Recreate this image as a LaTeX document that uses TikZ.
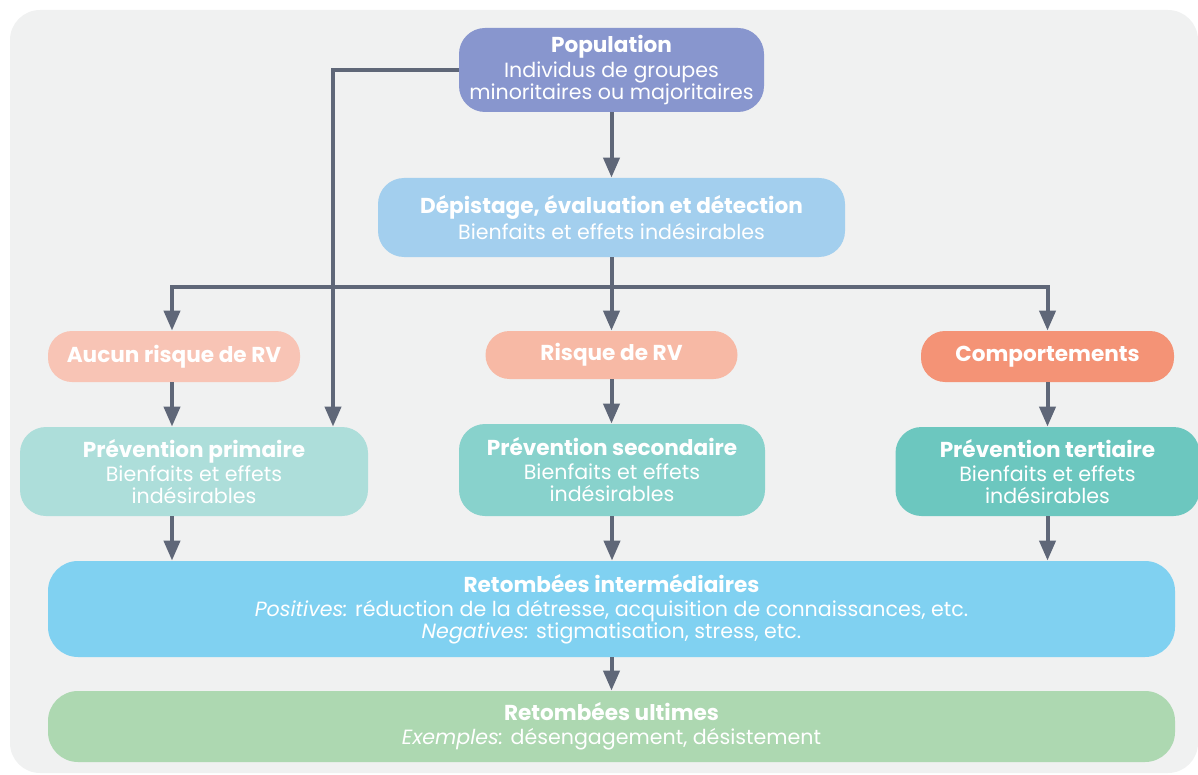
\documentclass[tikz,border=0pt]{standalone}
\usepackage{fontspec}
\setmainfont{Poppins}
\usepackage{tikz}
\usetikzlibrary{arrows.meta,positioning,calc}
\definecolor{panel}{HTML}{F0F1F1}
\definecolor{slate}{HTML}{5F6778}
\definecolor{popblue}{HTML}{8896CE}
\definecolor{skyblue}{HTML}{A3CFEE}
\definecolor{paleorange}{HTML}{F8C4B5}
\definecolor{softorange}{HTML}{F7B9A5}
\definecolor{deeporange}{HTML}{F49376}
\definecolor{tealA}{HTML}{ADDEDA}
\definecolor{tealB}{HTML}{88D2CC}
\definecolor{tealC}{HTML}{6CC7BF}
\definecolor{outblue}{HTML}{80D1F1}
\definecolor{outgreen}{HTML}{ADD8B1}
\newcommand{\hd}[1]{{\bfseries\fontsize{10.8}{12}\selectfont #1}}
\tikzset{
  box/.style={rounded corners=13pt,text=white,align=center,inner sep=2pt,font=\fontsize{10.3}{11}\selectfont},
  pill/.style={box,rounded corners=12pt},
  flow/.style={-{Triangle[width=8pt,length=10pt]},draw=slate,line width=2pt},
  wire/.style={draw=slate,line width=2pt}
}

\begin{document}
\begin{tikzpicture}[x=0.5pt,y=-0.5pt]
  \useasboundingbox (0,0) rectangle (1198,775);
  \fill[panel,rounded corners=15pt] (10,10) rectangle (1198,773);

  \node[box,fill=popblue,minimum width=152.5pt,minimum height=42pt] (pop) at (611.5,70)
    {\hd{Population}\\[1.5pt]Individus de groupes\\minoritaires ou majoritaires};
  \node[box,fill=skyblue,minimum width=233.5pt,minimum height=39.5pt] (dep) at (611.5,217.5)
    {\hd{Dépistage, évaluation et détection}\\[1pt]Bienfaits et effets indésirables};

  \node[pill,fill=paleorange,minimum width=126pt,minimum height=25.5pt] (norisk) at (174,356.5)
    {\hd{Aucun risque de RV}};
  \node[pill,fill=softorange,minimum width=126pt,minimum height=24pt] (risk) at (611.5,355)
    {\hd{Risque de RV}};
  \node[pill,fill=deeporange,minimum width=126.5pt,minimum height=25.5pt] (behav) at (1047.5,356.5)
    {\hd{Comportements}};

  \node[box,fill=tealA,minimum width=174pt,minimum height=44.5pt] (prim) at (194,471.5)
    {\hd{Prévention primaire}\\[1pt]Bienfaits et effets\\indésirables};
  \node[box,fill=tealB,minimum width=153pt,minimum height=46pt] (sec) at (612,470)
    {\hd{Prévention secondaire}\\[1pt]Bienfaits et effets\\indésirables};
  \node[box,fill=tealC,minimum width=152pt,minimum height=44.5pt] (tert) at (1047.5,471.5)
    {\hd{Prévention tertiaire}\\[1pt]Bienfaits et effets\\indésirables};

  \node[box,rounded corners=15pt,fill=outblue,minimum width=563.5pt,minimum height=48pt] (inter) at (611.5,609)
    {\hd{Retombées intermédiaires}\\[1pt]\textit{Positives:} réduction de la détresse, acquisition de connaissances, etc.\\\textit{Negatives:} stigmatisation, stress, etc.};
  \node[box,rounded corners=15pt,fill=outgreen,minimum width=563.5pt,minimum height=35.5pt] (ult) at (611.5,726.5)
    {\hd{Retombées ultimes}\\[1pt]\textit{Exemples:} désengagement, désistement};

  % branching
  \coordinate (split) at (611.5,287);
  \coordinate (bypass) at (333,0);
  \coordinate (leftcol) at (172,0);
  \draw[flow] (pop.south)--(dep.north);
  \draw[flow] (pop.west) -| (bypass |- prim.north);
  \draw[flow] (dep.south)--(risk.north);
  \draw[flow] (split) -| (leftcol |- norisk.north);
  \draw[flow] (split) -| (behav.north);

  \draw[flow] (leftcol |- norisk.south)--(leftcol |- prim.north);
  \draw[flow] (risk.south)--(risk.south |- sec.north);
  \draw[flow] (behav.south)--(behav.south |- tert.north);

  \draw[flow] (leftcol |- prim.south)--(leftcol |- inter.north);
  \draw[flow] (sec.south)--(sec.south |- inter.north);
  \draw[flow] (behav.south |- tert.south)--(behav.south |- inter.north);
  \draw[flow] (inter.south)--(ult.north);
\end{tikzpicture}
\end{document}
